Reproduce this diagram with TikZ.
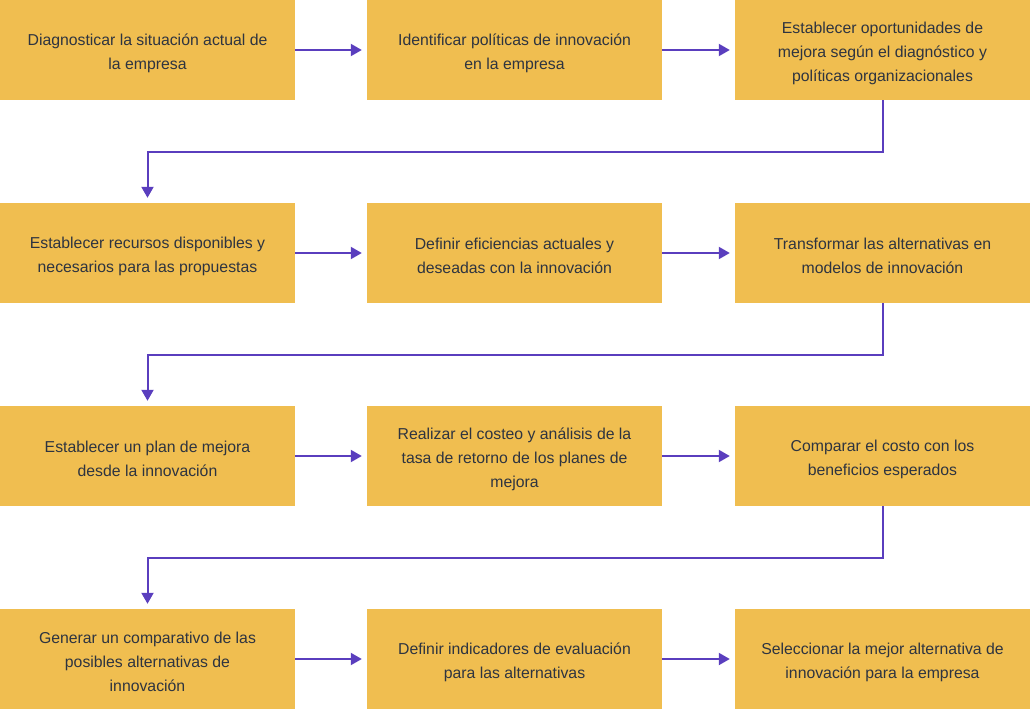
\documentclass[tikz,border=0pt]{standalone}
\usepackage{fontspec}
\setmainfont{Liberation Sans}
\usetikzlibrary{arrows.meta}
\definecolor{boxfill}{HTML}{F0BE50}
\definecolor{conncol}{HTML}{5A3EBE}
\definecolor{txtcol}{HTML}{2E3440}
\begin{document}
\begin{tikzpicture}[x=1pt,y=1pt,
  stepbox/.style={draw=none,fill=boxfill,minimum width=295pt,minimum height=100pt,inner sep=0pt},
  steptext/.style={inner sep=0pt,align=center,text=txtcol,font=\fontsize{15.8}{24}\selectfont,yshift=-3pt},
  conn/.style={draw=conncol,line width=2pt,-{Triangle[length=11pt,width=12pt]},shorten >=5pt}]
\useasboundingbox (0,0) rectangle (1030,-710);
\node[stepbox] (b1) at (147.5,-50) {};
\node[stepbox] (b2) at (514.5,-50) {};
\node[stepbox] (b3) at (882.5,-50) {};
\node[stepbox] (b4) at (147.5,-253) {};
\node[stepbox] (b5) at (514.5,-253) {};
\node[stepbox] (b6) at (882.5,-253) {};
\node[stepbox] (b7) at (147.5,-456) {};
\node[stepbox] (b8) at (514.5,-456) {};
\node[stepbox] (b9) at (882.5,-456) {};
\node[stepbox] (b10) at (147.5,-659) {};
\node[stepbox] (b11) at (514.5,-659) {};
\node[stepbox] (b12) at (882.5,-659) {};
\node[steptext] (t1) at (b1.center) {Diagnosticar la situación actual de\\la empresa};
\node[steptext] (t2) at (b2.center) {Identificar políticas de innovación\\en la empresa};
\node[steptext] (t3) at (b3.center) {Establecer oportunidades de\\mejora según el diagnóstico y\\políticas organizacionales};
\node[steptext] (t4) at (b4.center) {Establecer recursos disponibles y\\necesarios para las propuestas};
\node[steptext] (t5) at (b5.center) {Definir eficiencias actuales y\\deseadas con la innovación};
\node[steptext] (t6) at (b6.center) {Transformar las alternativas en\\modelos de innovación};
\node[steptext] (t7) at (b7.center) {Establecer un plan de mejora\\desde la innovación};
\node[steptext] (t8) at (b8.center) {Realizar el costeo y análisis de la\\tasa de retorno de los planes de\\mejora};
\node[steptext] (t9) at (b9.center) {Comparar el costo con los\\beneficios esperados};
\node[steptext] (t10) at (b10.center) {Generar un comparativo de las\\posibles alternativas de\\innovación};
\node[steptext] (t11) at (b11.center) {Definir indicadores de evaluación\\para las alternativas};
\node[steptext] (t12) at (b12.center) {Seleccionar la mejor alternativa de\\innovación para la empresa};
\foreach \a/\b in {b1/b2,b2/b3,b4/b5,b5/b6,b7/b8,b8/b9,b10/b11,b11/b12}
  \draw[conn] (\a.east) -- (\b.west);
\foreach \a/\b in {b3/b4,b6/b7,b9/b10}
  \draw[conn] (\a.south) -- ++(0,-51.5) -| (\b.north);
\end{tikzpicture}
\end{document}
